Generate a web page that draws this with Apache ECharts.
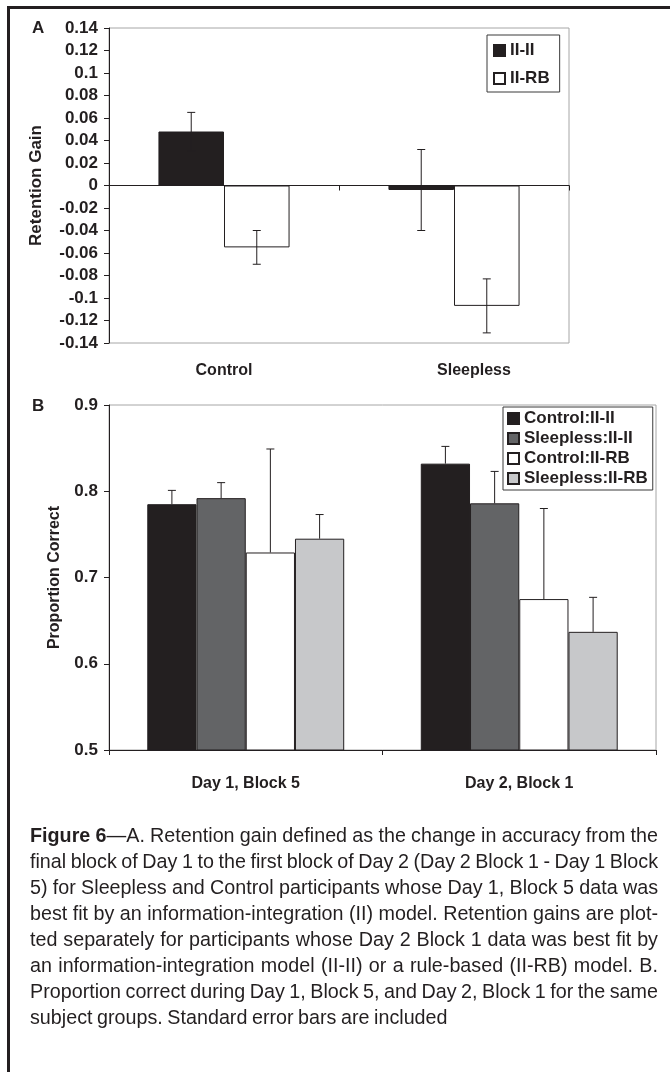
<!DOCTYPE html>
<html>
<head>
<meta charset="utf-8">
<script src="https://cdn.jsdelivr.net/npm/echarts@6/dist/echarts.min.js"></script>
<style>
  html, body { margin: 0; padding: 0; background: #ffffff; }
  #wrap { position: relative; width: 670px; height: 1072px; overflow: hidden; background: #fff; }
  #chart { position: absolute; left: 0; top: 0; width: 670px; height: 1072px; }
  #frame { position: absolute; left: 7px; top: 6px; width: 720px; height: 1120px;
           border-left: 3px solid #231f20; border-top: 3px solid #231f20; pointer-events: none; }
  #caption { position: absolute; left: 30px; top: 822px; transform-origin: 0 0;
             font-family: 'Liberation Sans', Arial, sans-serif; font-size: 20.5px; color: #231f20; }
  #caption .ln { line-height: 26px; height: 26px; white-space: nowrap; display: inline-block; word-spacing: -1px; }
  #caption.done .ln { display: block; white-space: normal; text-align: justify; text-align-last: justify; }
  #caption.done .ln.last { text-align: left; text-align-last: left; }
</style>
</head>
<body>
<div id="wrap">
  <div id="chart"></div>
  <div id="frame"></div>
  <div id="caption"></div>
</div>
<script>
// ---------- Panel A data ----------
const catsA = ['Control', 'Sleepless'];
const seriesNamesA = ['II-II', 'II-RB'];
const gainIIII = [0.048, -0.004];
const gainIIRB = [-0.055, -0.107];
const errIIII = [0.017, 0.036];
const errIIRB = [0.015, 0.024];
const yTicksA = [-0.14, 0.14, 0.02];   // min, max, step

// ---------- Panel B data ----------
const catsB = ['Day 1, Block 5', 'Day 2, Block 1'];
const seriesNamesB = ['Control:II-II', 'Sleepless:II-II', 'Control:II-RB', 'Sleepless:II-RB'];
const controlIIII = [0.785, 0.832];
const sleeplessIIII = [0.792, 0.786];
const controlIIRB = [0.729, 0.675];
const sleeplessIIRB = [0.745, 0.637];
const errControlIIII = [0.016, 0.020];
const errSleeplessIIII = [0.018, 0.037];
const errControlIIRB = [0.120, 0.105];
const errSleeplessIIRB = [0.028, 0.040];
const yTicksB = [0.5, 0.9, 0.1];

// ---------- Caption ----------
const captionLines = [
  '<b>Figure 6</b>\u2014A. Retention gain defined as the change in accuracy from the',
  'final block of Day 1 to the first block of Day 2 (Day 2 Block 1 - Day 1 Block',
  '5) for Sleepless and Control participants whose Day 1, Block 5 data was',
  'best fit by an information-integration (II) model. Retention gains are plot-',
  'ted separately for participants whose Day 2 Block 1 data was best fit by',
  'an information-integration model (II-II) or a rule-based (II-RB) model. B.',
  'Proportion correct during Day 1, Block 5, and Day 2, Block 1 for the same',
  'subject groups. Standard error bars are included'
];

const INK = '#231f20';
const FONT = "'Liberation Sans', Arial, sans-serif";
const coloursB = ['#231f20', '#636466', '#ffffff', '#c7c8ca'];
const gapA = 0.43, gapB = 0.28;

function errRender(idx, n, gap, plusOnly) {
  return function (params, api) {
    const x = api.value(0), v = api.value(1), e = api.value(2);
    const band = api.size([1, 0])[0];
    const bw = band * (1 - gap) / n;
    const base = api.coord([x, v]);
    const cx = base[0] + (idx - (n - 1) / 2) * bw;
    const yTop = api.coord([x, v + e])[1];
    const yBot = plusOnly ? base[1] : api.coord([x, v - e])[1];
    const cap = 4;
    const st = { stroke: INK, lineWidth: 1 };
    const children = [
      { type: 'line', shape: { x1: cx, y1: yTop, x2: cx, y2: yBot }, style: st },
      { type: 'line', shape: { x1: cx - cap, y1: yTop, x2: cx + cap, y2: yTop }, style: st }
    ];
    if (!plusOnly) children.push({ type: 'line', shape: { x1: cx - cap, y1: yBot, x2: cx + cap, y2: yBot }, style: st });
    return { type: 'group', children: children };
  };
}
function errData(vals, errs) { return vals.map((v, i) => [i, v, errs[i]]); }

const fmt = v => Math.abs(v) < 1e-9 ? '0' : String(+v.toFixed(2));

const barsA = [gainIIII, gainIIRB];
const errsA = [errIIII, errIIRB];
const barsB = [controlIIII, sleeplessIIII, controlIIRB, sleeplessIIRB];
const errsB = [errControlIIII, errSleeplessIIII, errControlIIRB, errSleeplessIIRB];

const series = [];
barsA.forEach((d, i) => {
  series.push({
    type: 'bar', name: seriesNamesA[i], xAxisIndex: 0, yAxisIndex: 0, data: d,
    barGap: '0%', barCategoryGap: (gapA * 100) + '%',
    itemStyle: { color: i === 0 ? INK : '#ffffff', borderColor: INK, borderWidth: 1 }
  });
});
barsA.forEach((d, i) => {
  series.push({
    type: 'custom', name: 'errA' + i, xAxisIndex: 0, yAxisIndex: 0, z: 5,
    renderItem: errRender(i, barsA.length, gapA, false),
    encode: { x: 0, y: 1 }, data: errData(d, errsA[i])
  });
});
barsB.forEach((d, i) => {
  series.push({
    type: 'bar', name: seriesNamesB[i], xAxisIndex: 2, yAxisIndex: 1, data: d,
    barGap: '0%', barCategoryGap: (gapB * 100) + '%',
    itemStyle: { color: coloursB[i], borderColor: INK, borderWidth: 1 }
  });
});
barsB.forEach((d, i) => {
  series.push({
    type: 'custom', name: 'errB' + i, xAxisIndex: 2, yAxisIndex: 1, z: 5,
    renderItem: errRender(i, barsB.length, gapB, true),
    encode: { x: 0, y: 1 }, data: errData(d, errsB[i])
  });
});

const axisLineStyle = { color: INK, width: 1 };
const tickLabel = { fontSize: 17, fontWeight: 'bold', color: INK, fontFamily: FONT };
const catLabelA = {
  margin: 20, fontSize: 16, fontWeight: 'bold', color: INK, fontFamily: FONT,
  formatter: (v, i) => i === 1 ? '{s|' + v + '}' : v,
  rich: { s: { fontSize: 16, fontWeight: 'bold', color: INK, fontFamily: FONT, padding: [0, 0, 0, 40] } }
};

const option = {
  animation: false,
  backgroundColor: 'transparent',
  textStyle: { fontFamily: FONT, color: INK },
  grid: [
    { left: 109, top: 28, width: 460, height: 315, show: true, borderColor: '#a6a6a6', borderWidth: 1 },
    { left: 109, top: 405, width: 547, height: 345, show: true, borderColor: '#a6a6a6', borderWidth: 1 }
  ],
  xAxis: [
    { gridIndex: 0, type: 'category', data: catsA,
      axisLine: { show: true, onZero: true, lineStyle: axisLineStyle },
      axisTick: { show: true, length: 5, lineStyle: axisLineStyle },
      axisLabel: { show: false }, splitLine: { show: false } },
    { gridIndex: 0, type: 'category', data: catsA, position: 'bottom',
      axisLine: { show: false, onZero: false }, axisTick: { show: false },
      axisLabel: catLabelA,
      splitLine: { show: false } },
    { gridIndex: 1, type: 'category', data: catsB,
      axisLine: { show: true, lineStyle: axisLineStyle },
      axisTick: { show: true, length: 5, lineStyle: axisLineStyle },
      axisLabel: { margin: 26, fontSize: 16, fontWeight: 'bold', color: INK, fontFamily: FONT },
      splitLine: { show: false } }
  ],
  yAxis: [
    { gridIndex: 0, type: 'value', min: yTicksA[0], max: yTicksA[1], interval: yTicksA[2],
      axisLine: { show: true, lineStyle: axisLineStyle },
      axisTick: { show: true, length: 5, lineStyle: axisLineStyle },
      splitLine: { show: false },
      axisLabel: Object.assign({ margin: 11, formatter: fmt }, tickLabel),
      name: 'Retention Gain', nameLocation: 'middle', nameGap: 64,
      nameTextStyle: { fontSize: 17, fontWeight: 'bold', color: INK, fontFamily: FONT } },
    { gridIndex: 1, type: 'value', min: yTicksB[0], max: yTicksB[1], interval: yTicksB[2],
      axisLine: { show: true, lineStyle: axisLineStyle },
      axisTick: { show: true, length: 5, lineStyle: axisLineStyle },
      splitLine: { show: false },
      axisLabel: Object.assign({ margin: 11, formatter: fmt }, tickLabel),
      name: 'Proportion Correct', nameLocation: 'middle', nameGap: 46,
      nameTextStyle: { fontSize: 16, fontWeight: 'bold', color: INK, fontFamily: FONT } }
  ],
  legend: [
    { data: seriesNamesA, orient: 'vertical', left: 487, top: 35, icon: 'rect',
      itemWidth: 11, itemHeight: 11, itemGap: 11, padding: [7, 10, 5, 6],
      borderColor: '#3a3a3a', borderWidth: 1, backgroundColor: '#ffffff',
      textStyle: { fontSize: 17, fontWeight: 'bold', color: INK, fontFamily: FONT, lineHeight: 17 } },
    { data: seriesNamesB, orient: 'vertical', left: 503, top: 407, icon: 'rect',
      itemWidth: 11, itemHeight: 11, itemGap: 3, padding: [3, 5, 3, 4],
      borderColor: '#3a3a3a', borderWidth: 1, backgroundColor: '#ffffff',
      textStyle: { fontSize: 17, fontWeight: 'bold', color: INK, fontFamily: FONT, lineHeight: 17 } }
  ],
  graphic: [
    { type: 'text', x: 32, y: 28, style: { text: 'A', fill: INK, font: "bold 17px 'Liberation Sans', Arial, sans-serif", verticalAlign: 'middle' } },
    { type: 'text', x: 32, y: 406, style: { text: 'B', fill: INK, font: "bold 17px 'Liberation Sans', Arial, sans-serif", verticalAlign: 'middle' } }
  ],
  series: series
};

const chart = echarts.init(document.getElementById('chart'), null, { renderer: 'canvas' });
chart.setOption(option);

// Caption: justified lines, condensed horizontally to the column width
(function () {
  const cap = document.getElementById('caption');
  const colW = 628;
  const els = captionLines.map((t, i) => {
    const d = document.createElement('div');
    d.className = 'ln' + (i === captionLines.length - 1 ? ' last' : '');
    d.innerHTML = t;
    cap.appendChild(d);
    cap.appendChild(document.createElement('br'));
    return d;
  });
  let maxW = 0;
  els.forEach(d => { maxW = Math.max(maxW, d.getBoundingClientRect().width); });
  const s = colW / maxW;
  cap.querySelectorAll('br').forEach(b => b.remove());
  cap.classList.add('done');
  cap.style.width = (colW / s) + 'px';
  cap.style.transform = 'scaleX(' + s + ')';
})();
</script>
</body>
</html>
